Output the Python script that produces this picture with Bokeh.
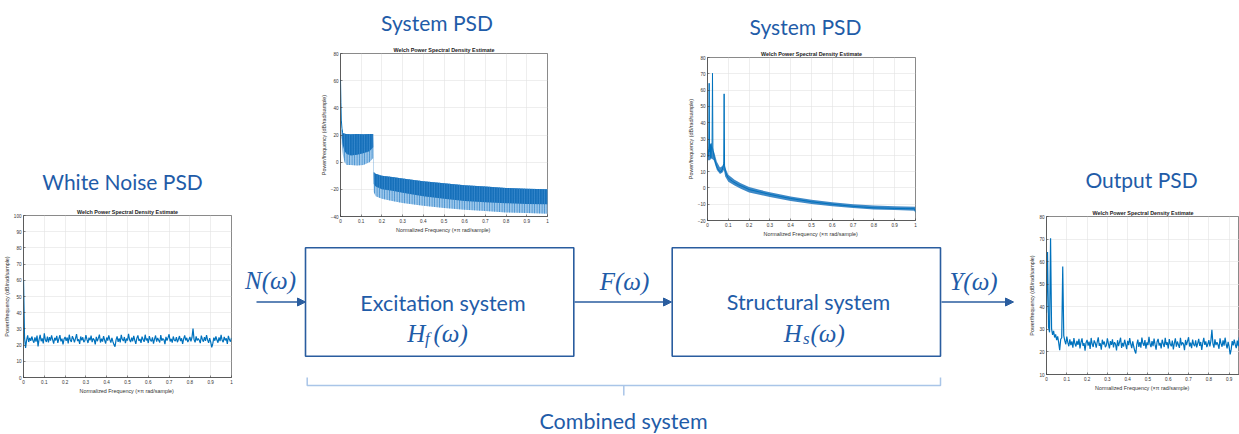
import numpy as np
from bokeh.plotting import figure
from bokeh.models import Range1d, Arrow, NormalHead, FixedTicker
from bokeh.core.properties import value
from bokeh.embed import file_html
from bokeh.resources import INLINE

# ---------------------------------------------------------------- data
# normalized frequency grid (x pi rad/sample) for the noise-like spectra
freq = np.round(np.arange(201) * 0.005, 3)

white_noise_db = [
    60.0, 24.6, 18.3, 23.1, 26.0, 21.9, 24.4, 22.6, 25.3, 23.0,
    21.5, 24.8, 22.2, 25.9, 19.2, 23.6, 26.3, 22.4, 24.1, 21.0,
    27.2, 23.3, 22.0, 25.2, 21.6, 24.9, 22.8, 26.0, 23.4, 20.9,
    24.5, 22.9, 25.7, 21.4, 23.8, 26.1, 22.3, 24.0, 20.5, 23.7,
    25.0, 22.6, 24.7, 21.1, 26.4, 23.2, 22.0, 25.5, 23.9, 21.7,
    24.2, 26.8, 22.5, 23.6, 20.7, 25.3, 23.0, 24.8, 21.9, 22.7,
    26.2, 23.5, 21.3, 24.6, 22.9, 25.8, 21.8, 24.1, 23.3, 20.4,
    25.1, 22.4, 24.3, 26.5, 21.6, 23.9, 22.2, 25.6, 23.1, 21.0,
    24.7, 22.8, 26.0, 23.4, 21.5, 24.5, 22.1, 20.3, 19.0, 23.2,
    25.4, 22.0, 24.2, 21.7, 26.3, 23.6, 22.5, 25.0, 21.2, 24.0,
    22.8, 26.9, 23.3, 21.9, 24.6, 22.4, 25.7, 23.0, 20.8, 24.3,
    26.0, 22.6, 23.8, 21.4, 25.2, 23.5, 22.0, 26.4, 22.9, 24.1,
    21.3, 25.5, 23.2, 22.3, 24.8, 20.9, 23.7, 25.9, 22.1, 24.4,
    23.0, 21.6, 26.2, 22.7, 24.0, 23.4, 20.6, 25.1, 22.8, 24.6,
    26.7, 22.2, 23.9, 21.5, 25.3, 23.1, 22.4, 24.9, 21.8, 23.6,
    25.6, 22.5, 24.2, 20.7, 23.8, 26.0, 22.9, 24.5, 21.9, 23.3,
    25.0, 22.3, 24.7, 30.2, 23.4, 21.7, 25.4, 22.8, 24.1, 23.0,
    21.2, 25.8, 23.5, 22.1, 24.9, 22.6, 26.1, 23.2, 21.4, 24.3,
    22.0, 18.6, 20.9, 24.6, 22.7, 25.3, 23.1, 21.5, 24.8, 22.4,
    26.3, 23.0, 21.8, 25.1, 22.9, 24.2, 20.8, 25.7, 23.4, 22.1,
    24.5,
]

output_db = [
    37.4, 64.3, 31.0, 28.7, 70.4, 30.2, 27.6, 29.3, 26.4, 27.8,
    25.2, 26.9, 24.1, 20.8, 25.6, 26.3, 57.8, 27.2, 25.0, 23.4,
    26.8, 24.2, 22.5, 25.6, 23.0, 24.7, 21.9, 26.1, 23.6, 22.4,
    24.9, 23.1, 25.8, 21.6, 24.3, 26.0, 22.7, 23.9, 20.6, 24.2,
    25.3, 22.8, 24.6, 21.3, 26.2, 23.5, 22.2, 25.1, 24.0, 21.9,
    24.4, 26.5, 22.7, 23.8, 21.0, 25.4, 23.3, 24.6, 22.1, 23.0,
    26.0, 23.7, 21.6, 24.8, 23.1, 25.6, 22.0, 24.3, 23.5, 20.7,
    25.2, 22.6, 24.5, 26.3, 21.8, 24.0, 22.4, 25.4, 23.3, 21.2,
    24.9, 23.0, 26.1, 23.6, 21.7, 24.7, 22.3, 20.5, 19.3, 23.4,
    25.5, 22.2, 24.4, 21.9, 26.4, 23.8, 22.7, 25.2, 21.4, 24.2,
    23.0, 26.7, 23.5, 22.1, 24.8, 22.6, 25.9, 23.2, 21.0, 24.5,
    25.8, 22.8, 24.0, 21.6, 25.4, 23.7, 22.2, 26.2, 23.1, 24.3,
    21.5, 25.7, 23.4, 22.5, 25.0, 21.1, 23.9, 26.0, 22.3, 24.6,
    23.2, 21.8, 26.3, 22.9, 24.2, 23.6, 20.8, 25.3, 23.0, 24.8,
    26.5, 22.4, 24.1, 21.7, 25.5, 23.3, 22.6, 25.1, 22.0, 23.8,
    25.8, 22.7, 24.4, 20.9, 24.0, 26.2, 23.1, 24.7, 22.1, 23.5,
    25.2, 22.5, 24.9, 29.8, 23.6, 21.9, 25.6, 23.0, 24.3, 23.2,
    21.4, 26.0, 23.7, 22.3, 25.1, 22.8, 26.3, 23.4, 21.6, 24.5,
    22.2, 18.9, 21.1, 24.8, 22.9, 25.5, 23.3, 21.7, 25.0, 22.6,
    26.5, 23.2, 22.0, 25.3, 23.1, 24.4, 21.0, 25.9, 23.6, 22.3,
    24.7,
]

# structural system spectrum: centre trace and its spread
struct_freq = [0.0, 0.003, 0.006, 0.008, 0.010, 0.013, 0.016, 0.019, 0.022, 0.024,
               0.026, 0.029, 0.033, 0.038, 0.043, 0.048, 0.055, 0.064, 0.070, 0.075,
               0.078, 0.080, 0.082, 0.086, 0.092, 0.10, 0.12, 0.15, 0.17, 0.20,
               0.25, 0.30, 0.35, 0.40, 0.45, 0.50, 0.55, 0.60, 0.65, 0.70,
               0.75, 0.80, 0.85, 0.90, 0.95, 0.995, 1.0]
struct_db = [20.5, 19.0, 24.0, 64.2, 22.0, 26.5, 18.5, 24.5, 27.0, 70.3,
             23.0, 21.5, 18.0, 16.0, 13.5, 12.0, 10.5, 9.8, 11.0, 13.0,
             15.0, 57.7, 14.0, 10.0, 8.0, 6.0, 4.0, 1.8, 0.8, -1.0,
             -2.5, -4.0, -5.3, -6.5, -7.5, -8.5, -9.3, -10.0, -10.7, -11.3,
             -11.8, -12.2, -12.4, -12.6, -12.7, -12.8, -15.0]
struct_band_freq = [0.0, 0.01, 0.02, 0.03, 0.045, 0.06, 0.072, 0.079, 0.085, 0.10, 0.13,
                    0.16, 0.20, 0.25, 0.30, 0.40, 0.50, 0.60, 0.70, 0.80, 0.90, 1.0]
struct_band_hi = [22, 27, 27.5, 23, 16, 12.5, 13.5, 16, 12.5, 8.0, 5.0,
                  2.8, 0.5, -1.2, -2.6, -5.2, -7.3, -8.8, -10.0, -10.8, -11.2, -11.5]
struct_band_lo = [17, 17, 18, 17, 11, 8.5, 9.5, 11, 7.0, 3.8, 1.5,
                  -0.5, -2.8, -4.2, -5.6, -8.0, -9.9, -11.3, -12.4, -13.2, -13.6, -14.0]

# excitation system spectrum: DC spike and comb envelope
exc_spike_freq = [0.0, 0.002, 0.004, 0.007, 0.010]
exc_spike_db = [60.6, 44.0, 31.0, 25.0, 22.0]
exc_freq = [0.006, 0.012, 0.02, 0.03, 0.05, 0.08, 0.11, 0.14, 0.158, 0.1605, 0.17,
            0.2, 0.25, 0.3, 0.4, 0.5, 0.6, 0.7, 0.8, 0.9, 1.0]
exc_top = [24, 21.5, 21, 20.8, 20.6, 20.8, 20.6, 20.8, 20.8, -7.5, -8.5,
           -10, -11, -12, -14, -15.5, -17, -18, -19, -19.5, -20]
exc_dark_low = [18, 12, 8, 6, 5, 5.5, 6.5, 8, 11, -16, -18,
                -20, -21, -22.5, -25, -27, -28.5, -29.5, -30.2, -30.8, -31]
exc_light_low = [14, 5, 0, -2, -2, -2.5, -2, 0, 3, -22, -25,
                 -27, -28.5, -30, -32, -33.7, -35, -36, -37, -37.5, -38]

freq_ticks = [0, 0.1, 0.2, 0.3, 0.4, 0.5, 0.6, 0.7, 0.8, 0.9, 1]
white_ticks = list(range(0, 101, 10))
exc_ticks = list(range(-40, 81, 20))
struct_ticks = list(range(-20, 81, 10))
out_ticks = list(range(10, 81, 10))

# ---------------------------------------------------------------- styles
BLUE_TXT = "#1f5ca8"
BLUE_LINE = "#2a5d9f"
BRACE = "#a9c5e8"
TRACE = "#0072bd"
TEXT_FONT = "Lato"
MATH_FONT = "Liberation Serif"


def psd_panel(left, top, frame_w, frame_h, borders, xr, yr, yticks):
    bl, bt, br, bb = borders
    p = figure(width=bl + frame_w + br, height=bt + frame_h + bb,
               x_range=Range1d(*xr), y_range=Range1d(*yr),
               output_backend="svg", toolbar_location=None,
               min_border_left=bl, min_border_top=bt,
               min_border_right=br, min_border_bottom=bb,
               title="Welch Power Spectral Density Estimate",
               styles={"position": "absolute", "left": f"{left}px", "top": f"{top}px"})
    p.border_fill_alpha = 0
    p.background_fill_color = "white"
    p.outline_line_color = "#3a3a3a"
    p.outline_line_width = 0.6
    p.title.align = "center"
    p.title.text_font = "Liberation Sans"
    p.title.text_font_size = "5.4px"
    p.title.text_font_style = "bold"
    p.title.text_color = "#222222"
    p.title.standoff = 1
    p.title.offset = 0
    p.xaxis.ticker = FixedTicker(ticks=freq_ticks)
    p.yaxis.ticker = FixedTicker(ticks=yticks)
    p.xaxis.major_label_overrides = {0: "0", 1: "1"}
    p.xaxis.axis_label = "Normalized Frequency  (\u00d7\u03c0 rad/sample)"
    p.yaxis.axis_label = "Power/frequency (dB/rad/sample)"
    for ax in (p.xaxis[0], p.yaxis[0]):
        ax.major_tick_in = 2
        ax.major_tick_out = 0
        ax.minor_tick_line_color = None
        ax.axis_line_color = "#3a3a3a"
        ax.axis_line_width = 0.6
        ax.major_tick_line_color = "#3a3a3a"
        ax.major_tick_line_width = 0.6
        ax.major_label_text_font = "Liberation Sans"
        ax.major_label_text_font_size = "4.6px"
        ax.major_label_text_color = "#333333"
        ax.major_label_standoff = 2
        ax.axis_label_text_font = "Liberation Sans"
        ax.axis_label_text_font_size = "5.4px"
        ax.axis_label_text_font_style = "normal"
        ax.axis_label_text_color = "#333333"
        ax.axis_label_standoff = 1
    p.xgrid.ticker = FixedTicker(ticks=freq_ticks)
    p.ygrid.ticker = FixedTicker(ticks=yticks)
    p.grid.grid_line_color = "#e2e2e2"
    p.grid.grid_line_width = 0.6
    return p


# White noise input spectrum
p_white = psd_panel(0, 195, 208, 164, (23, 20, 9, 17), (0, 1), (0, 100), white_ticks)
p_white.line(freq, white_noise_db, line_color=TRACE, line_width=1.2)

# Excitation system spectrum
p_exc = psd_panel(300, 38, 207, 165, (40, 15, 8, 17), (0, 1), (-40, 80), exc_ticks)
p_exc.varea(x=exc_freq, y1=exc_light_low, y2=exc_top, fill_color="#9cc6ea",
            hatch_pattern="vertical_line", hatch_color="#2f83c8", hatch_scale=2.5,
            hatch_weight=0.8)
p_exc.varea(x=exc_freq, y1=exc_dark_low, y2=exc_top, fill_color="#1670ba",
            hatch_pattern="vertical_line", hatch_color="#4d97d6", hatch_scale=2.5,
            hatch_weight=0.6)
p_exc.line(exc_spike_freq, exc_spike_db, line_color=TRACE, line_width=1)

# Structural system spectrum
p_struct = psd_panel(670, 42, 208, 165, (37, 15, 8, 17), (0, 1), (-20, 80), struct_ticks)
p_struct.varea(x=struct_band_freq, y1=struct_band_lo, y2=struct_band_hi,
               fill_color="#1c74bd", fill_alpha=0.85)
p_struct.line(struct_freq, struct_db, line_color=TRACE, line_width=1)

# Output spectrum
p_out = psd_panel(1013, 200, 193, 160, (33, 16, 0, 17), (0, 0.951), (10, 80), out_ticks)
p_out.line(freq, output_db, line_color=TRACE, line_width=1.2)

# ---------------------------------------------------------------- block diagram
main = figure(width=1239, height=434, x_range=Range1d(0, 1239), y_range=Range1d(434, 0),
              output_backend="svg", toolbar_location=None, min_border=0,
              x_axis_type=None, y_axis_type=None,
              styles={"position": "absolute", "left": "0px", "top": "0px"})
main.grid.visible = False
main.outline_line_color = None
main.background_fill_color = "white"
main.border_fill_color = "white"

# system blocks
main.quad(left=[305, 671.7], right=[573.3, 940], top=[247.3, 247.3], bottom=[355.7, 355.7],
          fill_color=None, line_color=BLUE_LINE, line_width=1.6)

# signal arrows
for xs, xe in ((256, 305), (574, 671), (941, 1013)):
    main.add_layout(Arrow(x_start=xs, y_start=301.5, x_end=xe, y_end=301.5,
                          line_color=BLUE_LINE, line_width=1.5,
                          end=NormalHead(size=8, fill_color=BLUE_LINE, line_color=BLUE_LINE)))

# bracket grouping both blocks
main.multi_line(xs=[[306.7, 306.7, 940, 940], [623.3, 623.3]],
                ys=[[377, 385, 385, 377], [385, 395]],
                line_color=BRACE, line_width=1.5)

# headings and block names
main.text(x=[436.5, 805, 122, 1141], y=[22, 26, 181, 179],
          text=["System PSD", "System PSD", "White Noise PSD", "Output PSD"],
          text_font=value(TEXT_FONT), text_font_size="21px", text_color=BLUE_TXT,
          text_align="center", text_baseline="alphabetic")
main.text(x=[442.5, 808, 623], y=[302, 301.5, 420],
          text=["Excitation system", "Structural system", "Combined system"],
          text_font=value(TEXT_FONT), text_font_size="21.5px", text_color=BLUE_TXT,
          text_align="center", text_baseline="alphabetic")

# signal symbols
main.text(x=[270, 624, 973], y=[280, 280.5, 280.5], text=["N(\u03c9)", "F(\u03c9)", "Y(\u03c9)"],
          text_font=value(MATH_FONT), text_font_style="italic", text_font_size="25px",
          text_color=BLUE_TXT, text_align="center", text_baseline="alphabetic")
main.text(x=[406.7, 783.3], y=[332.5, 332.5], text=["H", "H"],
          text_font=value(MATH_FONT), text_font_style="italic", text_font_size="25px",
          text_color=BLUE_TXT, text_align="left", text_baseline="alphabetic")
main.text(x=[424.5, 802.5], y=[338, 338], text=["f", "s"],
          text_font=value(MATH_FONT), text_font_style="italic", text_font_size="17px",
          text_color=BLUE_TXT, text_align="left", text_baseline="alphabetic")
main.text(x=[433, 810], y=[332.5, 332.5], text=["(\u03c9)", "(\u03c9)"],
          text_font=value(MATH_FONT), text_font_style="italic", text_font_size="25px",
          text_color=BLUE_TXT, text_align="left", text_baseline="alphabetic")

open("out.html", "w").write(file_html([main, p_white, p_exc, p_struct, p_out], INLINE))
